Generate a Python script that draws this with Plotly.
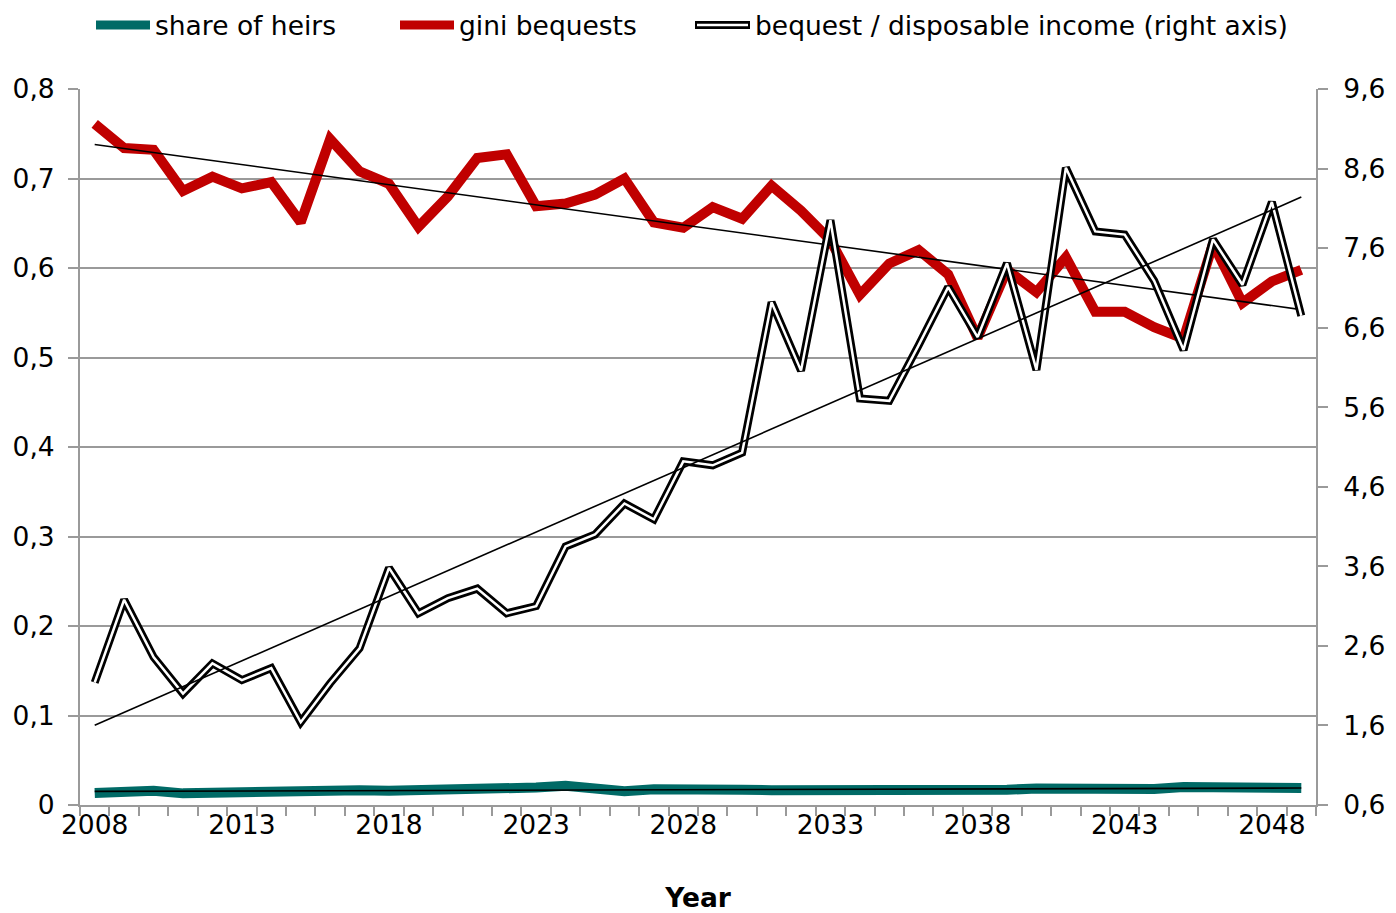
import numpy as np
import plotly.graph_objects as go

years = list(range(2008, 2050))

share_of_heirs = [0.0135, 0.016, 0.016, 0.013, 0.014, 0.015, 0.016, 0.016, 0.017, 0.0165,
                  0.016, 0.0165, 0.016, 0.016, 0.017, 0.0195, 0.0215, 0.019, 0.0155, 0.0175,
                  0.018, 0.0185, 0.017, 0.0165, 0.0165, 0.015, 0.0155, 0.016, 0.017, 0.0175,
                  0.0175, 0.017, 0.0185, 0.018, 0.018, 0.0175, 0.018, 0.020, 0.0195, 0.0195,
                  0.0195, 0.019]

gini_bequests = [0.761, 0.734, 0.732, 0.686, 0.702, 0.689, 0.696, 0.651, 0.744, 0.708,
                 0.694, 0.646, 0.680, 0.723, 0.727, 0.669, 0.672, 0.682, 0.700, 0.651,
                 0.645, 0.668, 0.655, 0.692, 0.664, 0.631, 0.570, 0.605, 0.620, 0.593,
                 0.522, 0.598, 0.573, 0.612, 0.551, 0.551, 0.534, 0.521, 0.627, 0.561,
                 0.585, 0.598]

bequest_income = [2.14, 3.18, 2.46, 2.00, 2.38, 2.17, 2.32, 1.64, 2.13, 2.57,
                  3.58, 3.01, 3.20, 3.32, 3.01, 3.10, 3.85, 4.00, 4.39, 4.19,
                  4.92, 4.87, 5.03, 6.92, 6.06, 7.95, 5.71, 5.68, 6.38, 7.11,
                  6.48, 7.41, 6.07, 8.61, 7.81, 7.77, 7.19, 6.32, 7.71, 7.14,
                  8.18, 6.75]

left_ticks = [0, 0.1, 0.2, 0.3, 0.4, 0.5, 0.6, 0.7, 0.8]
left_labels = ["0", "0,1", "0,2", "0,3", "0,4", "0,5", "0,6", "0,7", "0,8"]
right_ticks = [0.6, 1.6, 2.6, 3.6, 4.6, 5.6, 6.6, 7.6, 8.6, 9.6]
right_labels = ["0,6", "1,6", "2,6", "3,6", "4,6", "5,6", "6,6", "7,6", "8,6", "9,6"]
x_ticks = [2008, 2013, 2018, 2023, 2028, 2033, 2038, 2043, 2048]

legend_names = ["share of heirs", "gini bequests", "bequest / disposable income (right axis)"]

TEAL = "#006A66"
RED = "#C00000"
GRID = "#9A9A9A"
FONT = "DejaVu Sans"
FS = 26.5

yrs = np.array(years, dtype=float)


def trend(vals):
    a, b = np.polyfit(yrs, np.array(vals, dtype=float), 1)
    return list(a * yrs + b)


fig = go.Figure()

fig.add_trace(go.Scatter(x=years, y=share_of_heirs, mode="lines", name=legend_names[0],
                         line=dict(color=TEAL, width=10), showlegend=False))
fig.add_trace(go.Scatter(x=years, y=trend(share_of_heirs), mode="lines",
                         line=dict(color="black", width=1.6), showlegend=False))
fig.add_trace(go.Scatter(x=years, y=gini_bequests, mode="lines", name=legend_names[1],
                         line=dict(color=RED, width=10), showlegend=False))
fig.add_trace(go.Scatter(x=years, y=trend(gini_bequests), mode="lines",
                         line=dict(color="black", width=1.6), showlegend=False))
fig.add_trace(go.Scatter(x=years, y=bequest_income, mode="lines", name=legend_names[2],
                         line=dict(color="black", width=8), yaxis="y2", showlegend=False))
fig.add_trace(go.Scatter(x=years, y=bequest_income, mode="lines",
                         line=dict(color="white", width=2.5), yaxis="y2", showlegend=False))
fig.add_trace(go.Scatter(x=years, y=trend(bequest_income), mode="lines",
                         line=dict(color="black", width=1.6), yaxis="y2", showlegend=False))

# page has an 8px body margin; figure is sized so the plot area lands at x 80..1316, y 89..805
OFF = 8
W, H = 1236.0, 716.0


def px(x):
    return (x - 80) / W


def py(y):
    return (805 - y) / H


ly = py(25)
swatches = [(96, 150, TEAL, 153), (400, 454, RED, 457), (695, 750, "black", 753)]
shapes = []
annotations = []
for i, (x0, x1, col, tx) in enumerate(swatches):
    shapes.append(dict(type="line", xref="paper", yref="paper", x0=px(x0), x1=px(x1), y0=ly, y1=ly,
                       line=dict(color=col, width=9 if i < 2 else 8)))
    if i == 2:
        shapes.append(dict(type="line", xref="paper", yref="paper", x0=px(x0 + 2), x1=px(x1 - 2),
                           y0=ly, y1=ly, line=dict(color="white", width=2.5)))
    annotations.append(dict(text=legend_names[i], xref="paper", yref="paper", x=px(tx), y=ly,
                            xanchor="left", yanchor="middle", showarrow=False,
                            font=dict(family=FONT, size=FS, color="black")))

fig.update_layout(
    width=1396 - OFF, height=913 - OFF,
    margin=dict(l=80 - OFF, r=80, t=89 - OFF, b=108, autoexpand=False),
    paper_bgcolor="white", plot_bgcolor="white",
    font=dict(family=FONT, size=FS, color="black"),
    showlegend=False,
    shapes=shapes,
    annotations=annotations,
    xaxis=dict(
        range=[2007.5, 2049.5],
        tickmode="array", tickvals=x_ticks, ticktext=[str(v) for v in x_ticks],
        ticks="", showgrid=False, zeroline=False,
        showline=True, linecolor=GRID, linewidth=2,
        minor=dict(tickmode="array", tickvals=[2007.5 + k for k in range(43)],
                   ticks="outside", ticklen=9, tickwidth=2, tickcolor=GRID, showgrid=False),
        tickfont=dict(family=FONT, size=FS),
        ticklabelstandoff=-5,
        title=dict(text="<b>Year</b>", font=dict(family=FONT, size=FS), standoff=55),
    ),
    yaxis=dict(
        range=[0, 0.8], tickmode="array", tickvals=left_ticks, ticktext=left_labels,
        ticks="outside", ticklen=10, tickwidth=2, tickcolor=GRID,
        ticklabelstandoff=8,
        showgrid=True, gridcolor=GRID, gridwidth=2, zeroline=False,
        showline=True, linecolor=GRID, linewidth=2,
        tickfont=dict(family=FONT, size=FS),
    ),
    yaxis2=dict(
        range=[0.6, 9.6], overlaying="y", side="right",
        tickmode="array", tickvals=right_ticks, ticktext=right_labels,
        ticks="outside", ticklen=10, tickwidth=2, tickcolor=GRID,
        ticklabelstandoff=10,
        showgrid=False, zeroline=False,
        showline=True, linecolor=GRID, linewidth=2,
        tickfont=dict(family=FONT, size=FS),
    ),
)

fig.write_html("out.html")
